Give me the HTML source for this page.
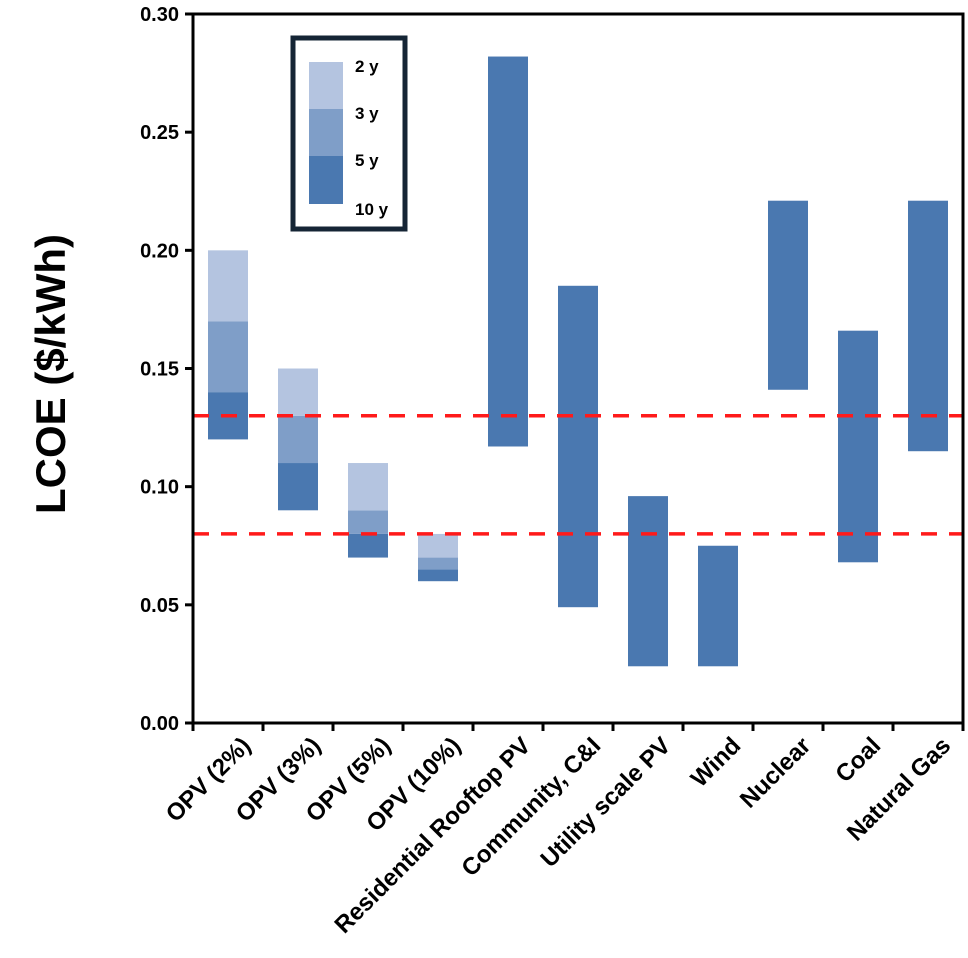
<!DOCTYPE html>
<html><head><meta charset="utf-8"><style>
body{margin:0;background:#fff;}
svg{display:block;font-family:"Liberation Sans",Arial,sans-serif;font-weight:bold;}
</style></head><body>
<svg id="chart" width="968" height="958" viewBox="0 0 968 958" xmlns="http://www.w3.org/2000/svg">
<text transform="translate(65,374) rotate(-90)" text-anchor="middle" font-size="42" fill="#000">LCOE ($/kWh)</text>
<g id="plot"></g>
<g>
<rect x="293" y="38" width="112" height="191" fill="#fff" stroke="#152535" stroke-width="5"/>
<rect x="309" y="62" width="34" height="47" fill="#b4c4e0"/>
<rect x="309" y="109" width="34" height="47" fill="#7f9ec8"/>
<rect x="309" y="156" width="34" height="48" fill="#4a78b0"/>
<text x="355" y="72" font-size="17">2 y</text>
<text x="355" y="119" font-size="17">3 y</text>
<text x="355" y="166" font-size="17">5 y</text>
<text x="355" y="215" font-size="17">10 y</text>
</g>
</svg>
<script>
const categories=["OPV (2%)","OPV (3%)","OPV (5%)","OPV (10%)","Residential Rooftop PV","Community, C&I","Utility scale PV","Wind","Nuclear","Coal","Natural Gas"];
const lows=[0.12,0.09,0.07,0.06,0.117,0.049,0.024,0.024,0.141,0.068,0.115];
const mid10=[0.14,0.11,0.08,0.065,null,null,null,null,null,null,null];
const mid5=[0.17,0.13,0.09,0.07,null,null,null,null,null,null,null];
const highs=[0.20,0.15,0.11,0.08,0.282,0.185,0.096,0.075,0.221,0.166,0.221];
const yTicks=[0,0.05,0.10,0.15,0.20,0.25,0.30];
const refLines=[0.13,0.08];
const NS="http://www.w3.org/2000/svg";
const L=193,R=963,T=14,B=723;
const y=v=>B-(v/0.30)*(B-T);
const x=i=>L+(i+0.5)*(R-L)/categories.length;
const g=document.getElementById('plot');
function mk(t,a){const e=document.createElementNS(NS,t);for(const k in a)e.setAttribute(k,a[k]);g.appendChild(e);return e;}
const bw=40;
categories.forEach((c,i)=>{
  const segs=mid10[i]==null?[[lows[i],highs[i],"#4a78b0"]]:[[lows[i],mid10[i],"#4a78b0"],[mid10[i],mid5[i],"#7f9ec8"],[mid5[i],highs[i],"#b4c4e0"]];
  segs.forEach((s,j)=>{
    const r=mk('rect',{x:x(i)-bw/2,y:y(s[1]),width:bw,height:y(s[0])-y(s[1]),fill:s[2]});
    
    
  });
  const t=mk('text',{x:0,y:0,'text-anchor':'end','font-size':24,transform:`translate(${x(i)+24},${B+24}) rotate(-45)`});
  t.textContent=c;
  
  
});
refLines.forEach(v=>{
  const l=mk('line',{x1:L,x2:R,y1:y(v),y2:y(v),stroke:'#ff1a1a','stroke-width':3.5,'stroke-dasharray':'16 12'});
  
  
});
const frame=mk('rect',{x:L,y:T,width:R-L,height:B-T,fill:'none',stroke:'#000','stroke-width':3});


yTicks.forEach(v=>{
  mk('line',{x1:L-8,x2:L,y1:y(v),y2:y(v),stroke:'#000','stroke-width':3});
  const t=mk('text',{x:L-14,y:y(v)+7,'text-anchor':'end','font-size':20});
  t.textContent=v.toFixed(2);
  
  
});
for(let i=0;i<=categories.length;i++){
  const xx=L+i*(R-L)/categories.length;
  mk('line',{x1:xx,x2:xx,y1:B,y2:B+8,stroke:'#000','stroke-width':3});
}
</script>
</body></html>
